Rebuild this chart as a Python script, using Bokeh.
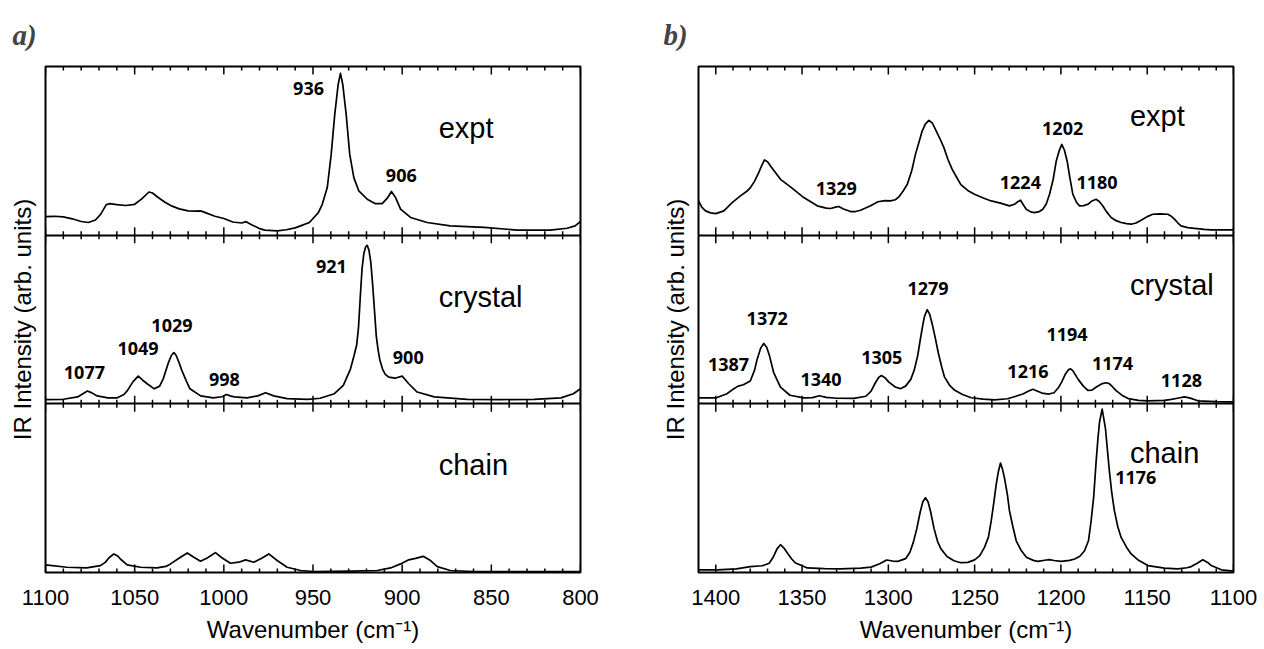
import math
from bokeh.plotting import figure
from bokeh.models import Range1d, LinearAxis, SingleIntervalTicker, FixedTicker, ColumnDataSource
from bokeh.layouts import row
from bokeh.embed import file_html
from bokeh.resources import INLINE
from bokeh.core.properties import value

# ---------------- panel a) data (wavenumber, IR intensity arb. units) ----------------
A_EXPT_WN = [1100, 1095, 1090, 1085, 1080, 1076, 1072, 1069, 1066, 1064, 1060, 1055, 1050, 1046, 1042,
             1040, 1037, 1033, 1029, 1025, 1020, 1016, 1013, 1010, 1005, 1000, 995, 990, 987.5, 985,
             980, 977, 970, 965, 960, 957, 952, 949.5, 947, 944.8, 942, 939.8, 937.8, 935.9, 934.6,
             933.3, 931.4, 929.4, 927.1, 924.3, 919.6, 915, 911.2, 908.1, 906, 903.7, 900.9, 895.3, 886, 873,
             854, 835.5, 817, 807.5, 803, 800]
A_EXPT_I = [11.0, 11.2, 10.8, 9.7, 8.1, 7.5, 9.0, 12.5, 18.0, 18.7, 18.1, 17.6, 18.3, 21.5, 25.6,
            25.0, 22.5, 19.5, 17.2, 15.6, 14.4, 14.2, 14.4, 13.2, 11.2, 9.9, 7.8, 7.2, 8.0, 6.5,
            3.9, 3.0, 2.6, 3.2, 4.3, 5.5, 7.5, 10.5, 13.4, 18.3, 28.2, 47.9, 71.6, 89.3, 95.9,
            89.3, 71.6, 47.9, 34.1, 26.2, 21.3, 18.7, 18.7, 22.3, 25.9, 22.3, 15.4, 10.5, 7.5, 5.5,
            4.6, 3.0, 3.0, 4.1, 5.5, 8.1]

A_CRYS_WN = [1100, 1090, 1082, 1079, 1076.5, 1074, 1071, 1065, 1060, 1056, 1054, 1051, 1048, 1045.5, 1043,
             1039, 1036, 1034, 1031, 1029.5, 1028, 1026.8, 1025.5, 1023.5, 1021, 1019, 1013, 1006, 1001, 998.5,
             996, 994, 987, 981, 976.6, 972, 964.5, 953, 946, 938, 933, 929, 927, 925.5, 924.5,
             923.4, 922.5, 921.5, 920.5, 919.6, 918.6, 917.6, 916.5, 915.5, 914.5, 913.5, 912.5, 911, 909.5, 907.5,
             904, 900, 896.3, 891.6, 882, 863.5, 845, 826, 811, 804, 800]
A_CRYS_I = [2.5, 2.7, 4.1, 6.0, 7.6, 6.5, 4.7, 3.5, 3.5, 5.5, 8.0, 13.0, 16.4, 14.0, 11.9,
            8.9, 10.5, 14.8, 24.6, 28.5, 30.4, 28.8, 25.5, 19.7, 13.5, 8.9, 4.7, 3.5, 4.2, 5.5,
            4.6, 4.1, 3.5, 4.7, 6.6, 4.7, 3.1, 2.7, 3.3, 6.0, 10.9, 20.6, 28.5, 35.0, 45.0,
            65.0, 80.0, 89.0, 93.0, 94.0, 91.0, 84.0, 70.0, 55.0, 40.0, 32.0, 26.0, 20.6, 17.5, 15.8,
            15.2, 16.4, 11.9, 7.0, 4.1, 2.7, 2.5, 2.7, 3.5, 6.0, 8.9]

A_CHAIN_WN = [1100, 1088, 1077, 1069.2, 1066.5, 1064.5, 1061.7, 1059.5, 1058, 1054.2, 1046.7, 1037.4, 1032.5,
              1029.9, 1024.3, 1020.5, 1016.8, 1013.1, 1009.3, 1004.7, 1000.9, 996.3, 991.6, 987.8, 983.2,
              978.5, 974.8, 970.1, 964.5, 957, 949.5, 929, 914, 906.5, 900.9, 896.3, 892.5, 888.2, 884.1,
              880.3, 873, 860, 800]
A_CHAIN_I = [4.5, 3.1, 2.7, 4.1, 6.0, 8.6, 11.0, 9.8, 8.0, 4.5, 3.1, 2.7, 3.6,
             5.1, 9.0, 11.6, 9.0, 6.7, 8.6, 11.8, 8.6, 5.5, 6.1, 7.5, 6.1,
             8.6, 11.0, 7.1, 3.1, 1.2, 0.6, 0.8, 1.2, 2.7, 5.1, 7.5, 8.4, 9.6, 7.1,
             3.5, 1.2, 0.6, 0.6]

# ---------------- panel b) data ----------------
B_EXPT_WN = [1410, 1408, 1405.9, 1403, 1400, 1395.3, 1390.5, 1385.7, 1382, 1379.9, 1377.5, 1375.1, 1373.5,
             1371.8, 1370, 1368.3, 1365, 1362.5, 1356.7, 1349, 1341.2, 1336, 1333.5, 1330.5, 1328.7, 1326,
             1321.9, 1319, 1316.1, 1310.3, 1306, 1302, 1298.7, 1296, 1293.9, 1291.5, 1289, 1286.5, 1284.3,
             1282.3, 1280.4, 1278.5, 1276.5, 1274.5, 1272.7, 1270, 1267.8, 1265.5, 1263, 1260.5, 1258, 1254,
             1250.1, 1245, 1240.4, 1235, 1229.8, 1226.9, 1225, 1223.4, 1221.8, 1220.1, 1217.5, 1215.3, 1212.5,
             1210.5, 1208.5, 1206.6, 1204.5, 1202.7, 1201, 1199.5, 1198, 1196.4, 1194.8, 1193.1, 1191, 1189.2,
             1186.8, 1184.4, 1182, 1179.6, 1177.8, 1175.8, 1173.5, 1170.9, 1168, 1165.1, 1162, 1159.3, 1156.5,
             1153.5, 1150, 1146.8, 1142.5, 1138.1, 1136, 1134.2, 1132.2, 1130.4, 1126.5, 1122.6, 1117, 1112.9,
             1100]
B_EXPT_I = [20.3, 16.5, 14.4, 13.2, 12.8, 14.4, 19.3, 23.3, 26.0, 28.2, 32.0, 37.1, 41.0,
            44.6, 43.5, 41.0, 36.5, 33.1, 28.6, 22.3, 17.4, 16.0, 15.8, 16.6, 17.0, 15.5,
            14.0, 14.0, 14.8, 17.4, 19.8, 20.5, 20.3, 21.0, 22.7, 26.0, 30.2, 38.0, 47.9,
            55.0, 61.7, 66.0, 68.0, 66.5, 62.7, 57.0, 51.9, 45.0, 39.0, 34.5, 30.0, 26.5,
            24.3, 22.0, 20.3, 19.0, 17.4, 18.3, 19.8, 20.7, 18.0, 15.4, 13.8, 13.4, 14.0,
            15.4, 18.5, 24.3, 33.0, 44.0, 50.0, 53.8, 50.5, 44.0, 34.0, 24.3, 19.5, 17.4,
            17.5, 18.3, 20.3, 21.3, 20.0, 17.4, 13.8, 10.5, 8.6, 7.5, 6.8, 6.5, 7.2,
            8.9, 11.0, 12.4, 12.6, 12.4, 11.2, 9.5, 7.2, 5.5, 4.5, 4.0, 3.4, 3.1,
            3.1]

B_CRYS_WN = [1410, 1400, 1393.5, 1389.5, 1387, 1384, 1380, 1377.5, 1376, 1374, 1372.2, 1370.5, 1369,
             1366.5, 1362.5, 1357, 1349, 1344, 1340, 1336, 1330, 1320, 1313, 1310, 1307.5, 1305.5,
             1304, 1302, 1299.7, 1296, 1293, 1290, 1287, 1285, 1283, 1281.5, 1280, 1279, 1277.5,
             1276, 1274.5, 1273, 1271, 1269, 1267.5, 1264.5, 1261.5, 1257, 1252, 1245, 1238.5, 1231,
             1227, 1222, 1219, 1216.3, 1213.5, 1211, 1207, 1204, 1201.5, 1199.5, 1197.5, 1195.5, 1194.4,
             1193, 1191.5, 1190, 1187, 1184.4, 1182, 1179.5, 1176.5, 1174, 1172, 1170, 1168, 1164.5,
             1161, 1155, 1150, 1140, 1136, 1131, 1128.4, 1125, 1120.7, 1110, 1100]
B_CRYS_I = [3.5, 3.5, 6.0, 9.0, 10.5, 11.3, 13.5, 20.0, 26.5, 33.0, 35.8, 33.5, 29.0,
            18.7, 9.9, 5.1, 3.5, 3.7, 4.8, 3.8, 3.3, 3.2, 4.5, 7.5, 12.5, 15.8,
            16.8, 15.5, 12.9, 10.0, 9.0, 10.5, 14.5, 20.0, 28.5, 38.0, 47.0, 52.0, 55.8,
            53.0, 47.0, 40.0, 30.0, 21.5, 16.0, 11.0, 8.0, 5.5, 3.6, 2.8, 2.4, 3.0,
            4.2, 5.8, 7.5, 8.6, 7.5, 6.4, 5.8, 6.6, 9.5, 13.0, 17.5, 20.3, 20.7,
            19.5, 17.0, 14.5, 10.5, 8.0, 8.1, 10.0, 11.8, 12.5, 12.0, 10.0, 7.8, 5.0,
            3.1, 2.0, 1.7, 2.0, 2.6, 3.6, 4.1, 3.4, 1.8, 1.3, 1.2]

B_CHAIN_WN = [1410, 1399, 1388, 1380, 1373, 1369, 1366.5, 1364.5, 1362.5, 1360.5, 1358.5, 1356, 1354,
              1347, 1337, 1327.7, 1316, 1310, 1305, 1301, 1297.5, 1294.5, 1290, 1287.5, 1285.5, 1283.5,
              1281.5, 1280, 1278.5, 1277, 1275.5, 1273.5, 1271.5, 1269.5, 1266, 1262, 1258, 1254, 1250,
              1247, 1244.3, 1242, 1240.4, 1238.8, 1237.5, 1236.2, 1235, 1233.8, 1232.7, 1231, 1229.8, 1227.8,
              1225.9, 1223, 1220, 1216, 1213.4, 1208.5, 1206.6, 1204, 1199.8, 1195, 1192, 1189, 1186.3,
              1184, 1182.5, 1181, 1179.6, 1178.5, 1177.6, 1176.1, 1174.2, 1173, 1171.9, 1170.5, 1169, 1167,
              1165.1, 1162, 1159.3, 1155, 1149.6, 1140, 1132.3, 1127, 1124.5, 1121, 1117.8, 1115, 1112.9,
              1107, 1100]
B_CHAIN_I = [1.6, 1.6, 2.2, 3.5, 4.0, 5.5, 9.5, 14.0, 16.5, 14.5, 11.5, 8.0, 5.8,
             2.7, 2.3, 2.2, 2.6, 3.2, 5.2, 7.4, 6.8, 6.6, 8.2, 12.0, 18.0, 26.0,
             36.0, 42.0, 44.3, 42.0, 36.0, 26.0, 18.5, 14.0, 9.5, 7.0, 5.8, 6.0, 7.5,
             10.0, 14.9, 21.0, 30.6, 42.0, 52.2, 60.0, 64.9, 61.0, 56.1, 46.0, 36.5, 27.0,
             18.8, 13.0, 9.0, 7.2, 6.6, 7.4, 7.6, 7.1, 6.6, 7.2, 8.0, 9.6, 12.9,
             19.0, 30.6, 45.0, 65.9, 80.0, 89.4, 96.9, 85.5, 72.0, 60.0, 47.0, 36.5, 27.0,
             20.8, 15.0, 11.0, 7.2, 4.1, 2.6, 2.2, 2.8, 3.5, 5.5, 7.5, 6.0, 4.1,
             1.6, 0.8]

# ---------------- ticks ----------------
A_MAJOR_TICKS = [1100, 1050, 1000, 950, 900, 850, 800]
A_MINOR_TICKS = [t for t in range(810, 1100, 10) if t % 50 != 0]
B_MAJOR_TICKS = [1400, 1350, 1300, 1250, 1200, 1150, 1100]
B_MINOR_TICKS = [t for t in range(1110, 1400, 10) if t % 50 != 0]

# ---------------- labels ----------------
SERIES_NAMES = ["expt", "crystal", "chain"]

A_PEAK_TEXT = {"expt": ["936", "906"],
               "crystal": ["921", "900", "1029", "1049", "1077", "998"],
               "chain": []}
A_PEAK_X = {"expt": [952.5, 900.5],
            "crystal": [939.7, 896.6, 1029.1, 1048.1, 1078.2, 999.7],
            "chain": []}
A_PEAK_Y = {"expt": [87.0, 35.1],
            "crystal": [81.6, 27.5, 46.4, 32.9, 18.7, 14.2],
            "chain": []}

B_PEAK_TEXT = {"expt": ["1329", "1224", "1202", "1180"],
               "crystal": ["1279", "1372", "1387", "1340", "1305", "1194", "1216", "1174", "1128"],
               "chain": ["1176"]}
B_PEAK_X = {"expt": [1330.2, 1223.5, 1199.0, 1179.1],
            "crystal": [1277.0, 1370.2, 1392.6, 1339.0, 1303.8, 1196.5, 1219.1, 1170.1, 1130.2],
            "chain": [1156.6]}
B_PEAK_Y = {"expt": [27.4, 31.5, 63.5, 31.5],
            "crystal": [68.1, 50.6, 23.3, 14.6, 27.5, 41.1, 19.2, 23.8, 13.9],
            "chain": [56.2]}

A_NAME_X, A_NAME_Y = 879.5, [63.7, 63.6, 63.9]
B_NAME_X, B_NAME_Y = 1160.0, [70.6, 70.3, 70.8]

X_LABEL = "Wavenumber (cm\u207b\u00b9)"
Y_LABEL = "IR Intensity (arb. units)"

SANS = "Liberation Sans"
EDGES = [0, 100, 200, 300]   # frame bottom, dividers, frame top (layout levels)


def plain_axis(**kw):
    return LinearAxis(major_tick_in=0, major_tick_out=0, minor_tick_in=0, minor_tick_out=0, **kw)


def build(tag, xr, curves, majors, minors, peak_text, peak_x, peak_y, name_x, name_y,
          left_b, right_b, width, title_offset):
    p = figure(width=width, height=649, x_range=Range1d(*xr), y_range=Range1d(0, 300),
               min_border_left=left_b, min_border_right=right_b, min_border_top=62, min_border_bottom=77,
               x_axis_location=None, y_axis_location=None, toolbar_location=None,
               output_backend="svg", title=tag)
    p.grid.grid_line_color = None
    p.outline_line_color = "black"
    p.outline_line_width = 2
    p.extra_y_ranges = {"expt": Range1d(-200, 100), "crystal": Range1d(-100, 200), "chain": Range1d(0, 300)}

    p.title.text_font = "Liberation Serif"
    p.title.text_font_style = "bold italic"
    p.title.text_font_size = "29px"
    p.title.align = "left"
    p.title.offset = title_offset
    p.title.standoff = 32

    bottom = plain_axis(ticker=SingleIntervalTicker(interval=50, num_minor_ticks=5),
                        axis_label=X_LABEL, major_label_standoff=17, axis_label_standoff=8)
    bottom.axis_line_color = None
    bottom.major_label_text_font = SANS
    bottom.major_label_text_font_size = "22px"
    bottom.major_label_text_color = "black"
    bottom.axis_label_text_font = SANS
    bottom.axis_label_text_font_size = "24px"
    bottom.axis_label_text_font_style = "normal"
    bottom.axis_label_text_color = "black"
    p.add_layout(bottom, "below")

    for loc in (100, 200):
        d = plain_axis(ticker=FixedTicker(ticks=[]), fixed_location=loc,
                       major_label_text_font_size="0px", major_label_text_color=None, major_label_standoff=0)
        d.axis_line_color = "black"
        d.axis_line_width = 2
        p.add_layout(d, "below")

    left = plain_axis(ticker=FixedTicker(ticks=[]), axis_label=Y_LABEL, axis_label_standoff=10,
                      major_label_standoff=0)
    left.axis_line_color = None
    left.axis_label_text_font = SANS
    left.axis_label_text_font_size = "24px"
    left.axis_label_text_font_style = "normal"
    left.axis_label_text_color = "black"
    p.add_layout(left, "left")

    # tick marks: vertical dashes centred on frame edges / dividers (clipped by the frame)
    for lev in EDGES:
        p.scatter(x=majors, y=[lev] * len(majors), marker="dash", angle=math.pi / 2, size=16,
                  line_color="black", line_width=1.5)
        p.scatter(x=minors, y=[lev] * len(minors), marker="dash", angle=math.pi / 2, size=8,
                  line_color="black", line_width=1.5)

    for i, name in enumerate(SERIES_NAMES):
        wn, inten = curves[name]
        p.line(wn, inten, y_range_name=name, line_color="black", line_width=1.7, line_join="round")
        src = ColumnDataSource(dict(x=peak_x[name], y=peak_y[name], t=peak_text[name]))
        p.text(x="x", y="y", text="t", source=src, y_range_name=name,
               text_font=value("Open Sans"), text_font_style="bold", text_font_size="18px",
               text_align="center", text_baseline="middle", text_color="black")
        p.text(x=[name_x], y=[name_y[i]], text=[name], y_range_name=name,
               text_font=value(SANS), text_font_size="29px", text_align="left",
               text_baseline="alphabetic", text_color="black")
    return p


pa = build("a)", (1100, 800),
           {"expt": (A_EXPT_WN, A_EXPT_I), "crystal": (A_CRYS_WN, A_CRYS_I), "chain": (A_CHAIN_WN, A_CHAIN_I)},
           A_MAJOR_TICKS, A_MINOR_TICKS,
           A_PEAK_TEXT, A_PEAK_X, A_PEAK_Y, A_NAME_X, A_NAME_Y, 45, 73, 653, -33)
pb = build("b)", (1410, 1100),
           {"expt": (B_EXPT_WN, B_EXPT_I), "crystal": (B_CRYS_WN, B_CRYS_I), "chain": (B_CHAIN_WN, B_CHAIN_I)},
           B_MAJOR_TICKS, B_MINOR_TICKS,
           B_PEAK_TEXT, B_PEAK_X, B_PEAK_Y, B_NAME_X, B_NAME_Y, 45, 31, 611, -35)

layout = row(pa, pb)
open("out.html", "w").write(file_html(layout, INLINE))
